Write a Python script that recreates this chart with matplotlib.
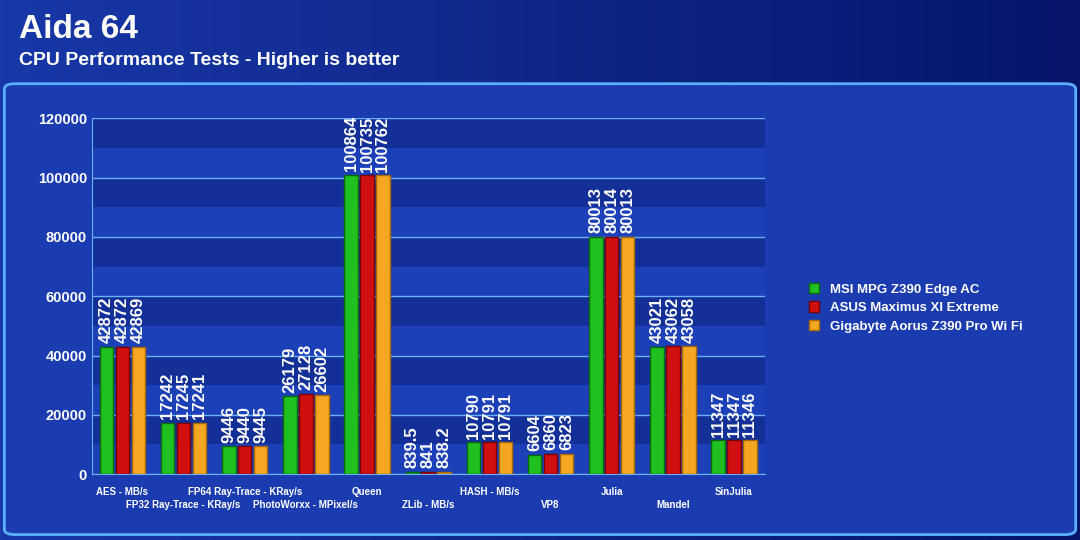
import matplotlib
matplotlib.use("Agg")
import matplotlib.pyplot as plt
from matplotlib.patches import FancyBboxPatch
import numpy as np

plt.rcParams["font.family"] = ["Liberation Sans", "DejaVu Sans"]

categories = ["AES - MB/s", "FP32 Ray-Trace - KRay/s", "FP64 Ray-Trace - KRay/s",
              "PhotoWorxx - MPixel/s", "Queen", "ZLib - MB/s", "HASH - MB/s", "VP8",
              "Julia", "Mandel", "SinJulia"]
series = ["MSI MPG Z390 Edge AC", "ASUS Maximus XI Extreme", "Gigabyte Aorus Z390 Pro Wi Fi"]
msi = [42872, 17242, 9446, 26179, 100864, 839.5, 10790, 6604, 80013, 43021, 11347]
asus = [42872, 17245, 9440, 27128, 100735, 841, 10791, 6860, 80014, 43062, 11347]
giga = [42869, 17241, 9445, 26602, 100762, 838.2, 10791, 6823, 80013, 43058, 11346]
labels_msi = ["42872", "17242", "9446", "26179", "100864", "839.5", "10790", "6604", "80013", "43021", "11347"]
labels_asus = ["42872", "17245", "9440", "27128", "100735", "841", "10791", "6860", "80014", "43062", "11347"]
labels_giga = ["42869", "17241", "9445", "26602", "100762", "838.2", "10791", "6823", "80013", "43058", "11346"]
colors = ["#1fc01f", "#d01010", "#f5a623"]
edges = ["#0a6a0a", "#7a0000", "#a86a00"]

fig = plt.figure(figsize=(10.8, 5.4), dpi=100)
fig.patch.set_facecolor("#0a1c78")
grad = fig.add_axes([0, 0, 1, 1], zorder=-10)
g = np.linspace(0, 1, 256).reshape(1, -1)
grad.imshow(g, aspect="auto", cmap=matplotlib.colors.LinearSegmentedColormap.from_list("b", ["#1838a8", "#06156a"]), extent=[0, 1, 0, 1])
grad.axis("off")
panel = FancyBboxPatch((0.004, 0.01), 0.992, 0.835, boxstyle="round,pad=0,rounding_size=0.01",
                       transform=fig.transFigure, facecolor="#1a3cb0", edgecolor="#5ab0ff", lw=2, zorder=-5)
fig.patches.append(panel)
fig.text(0.018, 0.945, "Aida 64", color="white", fontsize=24, fontweight="bold", va="center")
fig.text(0.018, 0.888, "CPU Performance Tests - Higher is better", color="white", fontsize=14, fontweight="bold", va="center")

ax = fig.add_axes([0.085, 0.122, 0.623, 0.659])
ax.set_facecolor("#1a3cb0")
for i in range(12):
    ax.axhspan(i * 10000, (i + 1) * 10000, color="#1b40b8" if i % 2 == 0 else "#123098", zorder=0, lw=0)
ax.set_ylim(0, 120000)
ax.set_xlim(-0.5, len(categories) - 0.5)
ax.set_yticks(range(0, 120001, 20000))
ax.yaxis.grid(True, color="#6ab0ff", lw=1)
ax.set_axisbelow(True)
for s in ["top", "right"]:
    ax.spines[s].set_visible(False)
ax.spines["left"].set_color("#6ab0ff")
ax.spines["bottom"].set_color("#6ab0ff")
ax.tick_params(axis="y", colors="white", labelsize=10.5, length=0)
for t in ax.get_yticklabels():
    t.set_fontweight("bold")
x = np.arange(len(categories))
w = 0.22
for k, (vals, labs) in enumerate([(msi, labels_msi), (asus, labels_asus), (giga, labels_giga)]):
    pos = x + (k - 1) * 0.26
    ax.bar(pos, vals, w, color=colors[k], edgecolor=edges[k], lw=1, label=series[k], zorder=3)
    for p, v, l in zip(pos, vals, labs):
        ax.text(p, v + 1200, l, rotation=90, ha="center", va="bottom", color="white",
                fontsize=12, fontweight="bold", zorder=4)
ax.set_xticks(x)
ax.set_xticklabels([])
ax.tick_params(axis="x", length=0)
for i, c in enumerate(categories):
    ax.text(i, -6000 if i % 2 == 0 else -10500, c, ha="center", va="center", color="white",
            fontsize=7, fontweight="bold")
leg = fig.legend(loc="center left", bbox_to_anchor=(0.738, 0.43), frameon=False,
                 labelcolor="white", prop={"weight": "bold", "size": 9.5}, handlelength=0.8,
                 handleheight=0.8, labelspacing=0.45)
fig.savefig("out.png", dpi=100, facecolor=fig.get_facecolor())
